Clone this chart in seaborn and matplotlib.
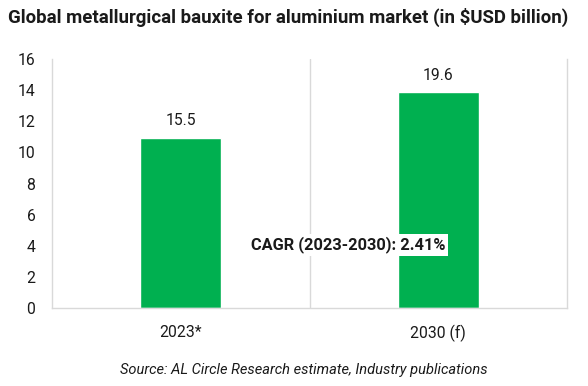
import matplotlib
matplotlib.use("Agg")
import matplotlib.pyplot as plt
import seaborn as sns
import pandas as pd

# values
categories = ["2023*", "2030 (f)"]
bar_heights = [10.95, 13.86]          # drawn bar heights on the axis
value_labels = ["15.5", "19.6"]        # printed labels (USD billion)
cagr_text = "CAGR (2023-2030): 2.41%"
y_ticks = [0, 2, 4, 6, 8, 10, 12, 14, 16]

df = pd.DataFrame({"Year": categories, "Value": bar_heights})

sns.set_style("white")
plt.rcParams["font.family"] = ["Roboto", "DejaVu Sans"]

fig = plt.figure(figsize=(5.88, 3.86), dpi=100)
ax = fig.add_axes([0.0884, 0.202, 0.876, 0.645])

sns.barplot(data=df, x="Year", y="Value", color="#00b050", width=0.315,
            saturation=1, ax=ax)

ax.bar_label(ax.containers[0], labels=value_labels, padding=7, fontsize=11.3,
             color="#1a1a1a")

ax.set_ylim(0, 16)
ax.set_yticks(y_ticks)
ax.set_xlim(-0.5, 1.5)
ax.set_xlabel("")
ax.set_ylabel("")
ax.tick_params(axis="both", length=0, labelsize=11.3, colors="#1a1a1a")
ax.tick_params(axis="y", pad=12)
ax.tick_params(axis="x", pad=12)

for side in ["left", "bottom", "right"]:
    ax.spines[side].set_color("#d9d9d9")
    ax.spines[side].set_linewidth(1)
ax.spines["top"].set_visible(False)
ax.axvline(0.5, color="#d9d9d9", lw=1, zorder=0)

ax.text(0.575, 0.253, cagr_text, transform=ax.transAxes, ha="center",
        va="center", fontsize=11.8, fontweight="semibold", color="#1a1a1a",
        bbox=dict(facecolor="white", edgecolor="none", pad=1.5))

fig.text(0.013, 0.955, "Global metallurgical bauxite for aluminium market (in $USD billion)",
         fontsize=13.4, fontweight="bold", color="#1a1a1a", va="center")
fig.text(0.517, 0.042, "Source: AL Circle Research estimate, Industry publications",
         fontsize=10.5, style="italic", color="#1a1a1a", ha="center", va="center")

fig.savefig("out.png", dpi=100)
